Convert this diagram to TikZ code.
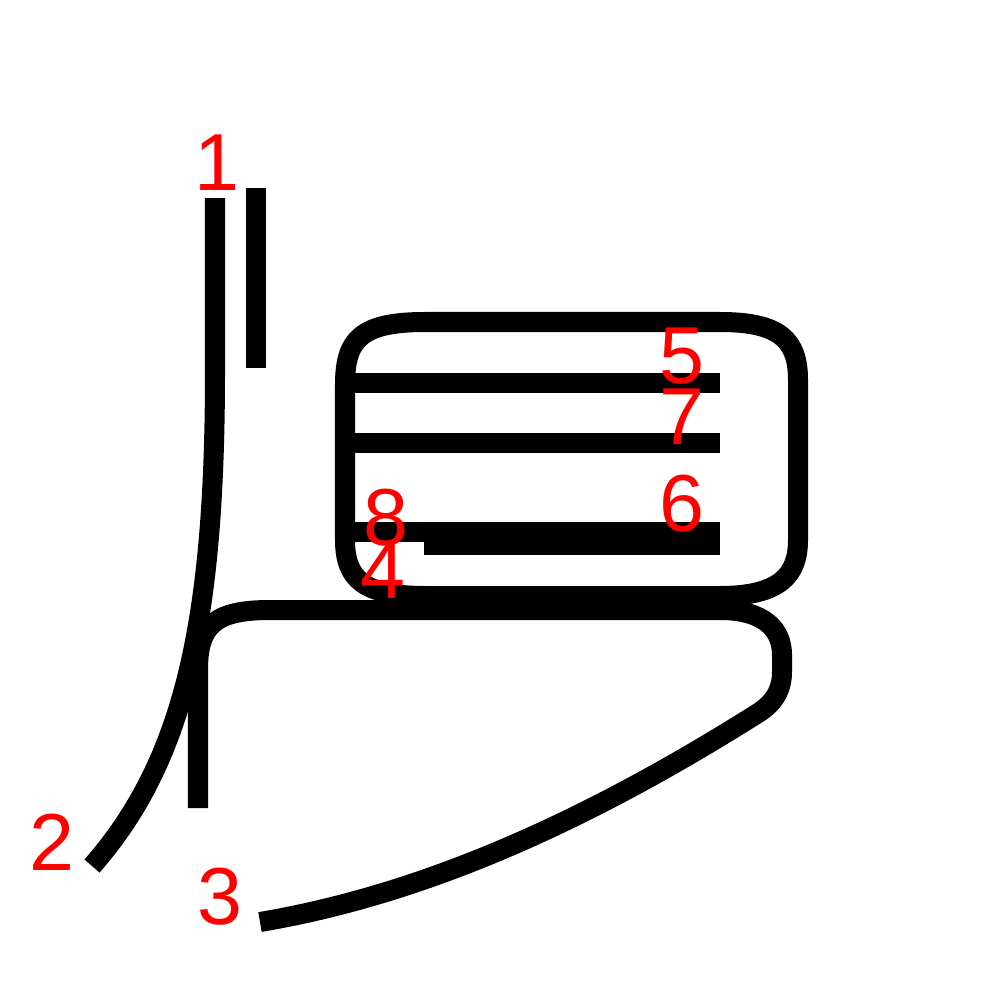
\documentclass[tikz,border=0pt]{standalone}
\usepackage{fontspec}
\setmainfont{Liberation Sans}
\begin{document}
\begin{tikzpicture}[x=0.01cm, y=-0.01cm,
    kanji/.style={line width=2mm, black},
    num/.style={text=red, font=\fontsize{23}{23}\selectfont, inner sep=0pt}]
      \useasboundingbox (0,0) rectangle (1000,1000);
      % strokes
      \draw[kanji] (256,188) -- (256,368);
      \draw[kanji] (215,198) -- (215,370) .. controls (215,620) and (185,760) .. (92,866);
      \draw[kanji] (198,808) -- (198,670) .. controls (198,625) and (215,610) .. (270,610)
            -- (720,610) .. controls (765,610) and (782,630) .. (782,655)
            -- (782,672) .. controls (782,692) and (772,705) .. (755,715)
            .. controls (580,825) and (420,895) .. (260,922);
      \draw[kanji] (345,540) .. controls (345,580) and (365,596) .. (425,596) -- (720,596)
            .. controls (780,596) and (798,575) .. (798,540) -- (798,380)
            .. controls (798,340) and (780,322) .. (720,322) -- (425,322)
            .. controls (360,322) and (345,340) .. (345,385) -- cycle;
      \draw[kanji] (355,383) -- (720,383);
      \draw[kanji] (355,443) -- (720,443);
      \draw[kanji] (355,532) -- (720,532);
      \draw[kanji] (424,545) -- (720,545);

      % stroke labels
      \node[num] (N1) at (217,163) {1};
      \node[num] (N2) at (52,842) {2};
      \node[num] (N3) at (220,897) {3};
      \node[num] (N4) at (383,571) {4};
      \node[num] (N5) at (682,356) {5};
      \node[num] (N6) at (682,504) {6};
      \node[num] (N7) at (682,417) {7};
      \node[num] (N8) at (386,518) {8};
\end{tikzpicture}
\end{document}
